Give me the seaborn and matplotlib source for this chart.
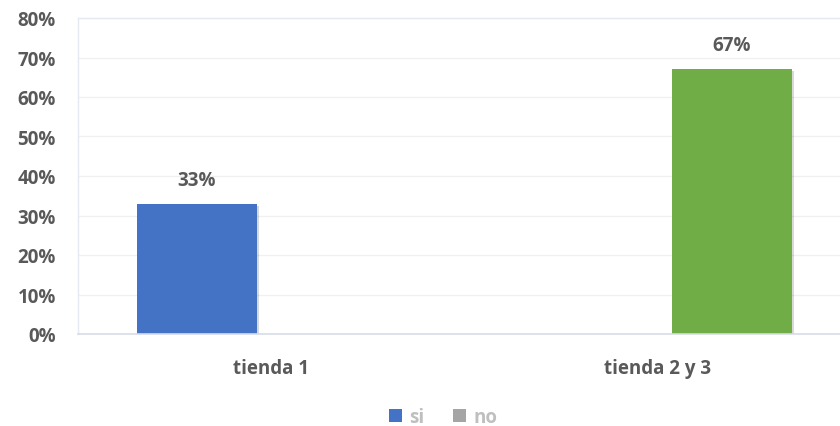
import matplotlib
matplotlib.use("Agg")
import matplotlib.pyplot as plt
import matplotlib.patheffects as pe
from matplotlib.patches import Patch
from matplotlib.ticker import PercentFormatter, MultipleLocator
import pandas as pd
import seaborn as sns

# Data
tiendas = ["tienda 1", "tienda 2 y 3"]
series = ["si", "no"]
si_vals = [0.33, 0.0]
no_vals = [0.0, 0.67]

series_colors = {"si": "#4472C4", "no": "#A5A5A5"}
highlight_color = "#70AD47"   # the "no" bar of tienda 2 y 3 is filled green
text_gray = "#595959"

df = pd.DataFrame({
    "tienda": tiendas * 2,
    "respuesta": ["si"] * len(tiendas) + ["no"] * len(tiendas),
    "valor": si_vals + no_vals,
})

sns.set_theme(style="white")
plt.rcParams["font.family"] = ["Open Sans", "DejaVu Sans"]

fig = plt.figure(figsize=(8.4, 4.27), dpi=100)
ax = fig.add_axes([78 / 840, 1 - 335 / 427, (851 - 78) / 840, (335 - 19) / 427])

sns.barplot(data=df, x="tienda", y="valor", hue="respuesta",
            order=tiendas, hue_order=series, palette=series_colors,
            width=0.768, gap=0.193, saturation=1, legend=False,
            edgecolor="none", linewidth=0, ax=ax)

# Recolour the green bar and add soft shadows
for bar in ax.patches:
    if bar.get_height() > 0:
        bar.set_path_effects([pe.SimplePatchShadow(offset=(1.5, -1.5), alpha=0.15, shadow_rgbFace="#000000"),
                              pe.Normal()])
        if abs(bar.get_height() - no_vals[1]) < 1e-9 and bar.get_x() > 0.5:
            bar.set_facecolor(highlight_color)

# Value labels on the non-empty bars
for container, vals in zip(ax.containers, [si_vals, no_vals]):
    labels = [f"{round(v * 100):d}%" if v > 0 else "" for v in vals]
    ax.bar_label(container, labels=labels, padding=10, fontsize=13.5,
                 fontweight="bold", color=text_gray)

ax.set_xlim(-0.5, 1.5)
ax.set_ylim(0, 0.8)
ax.yaxis.set_major_locator(MultipleLocator(0.1))
ax.yaxis.set_major_formatter(PercentFormatter(1.0, decimals=0))
ax.set_xlabel("")
ax.set_ylabel("")

ax.grid(axis="y", color="#F0F0F0", linewidth=1)
ax.set_axisbelow(True)
for side in ["left", "top", "right"]:
    ax.spines[side].set_color("#E4E9F2")
    ax.spines[side].set_linewidth(1)
ax.spines["bottom"].set_color("#D6DCE8")
ax.spines["bottom"].set_linewidth(1.2)

ax.tick_params(axis="y", length=0, pad=16, labelsize=13.5, labelcolor=text_gray)
ax.tick_params(axis="x", length=0, pad=17, labelsize=13.5, labelcolor=text_gray)
for lab in ax.get_yticklabels() + ax.get_xticklabels():
    lab.set_fontweight("bold")

handles = [Patch(facecolor=series_colors[s], edgecolor="none", label=s) for s in series]
leg = fig.legend(handles=handles, loc="center", bbox_to_anchor=(443 / 840, 1 - 418 / 427),
                 ncol=2, frameon=False, handlelength=0.7, handleheight=0.7,
                 handletextpad=0.4, columnspacing=1.5,
                 prop={"size": 13.5, "weight": "bold"})
for t in leg.get_texts():
    t.set_color("#BFBFBF")

fig.savefig("out.png", dpi=100)
